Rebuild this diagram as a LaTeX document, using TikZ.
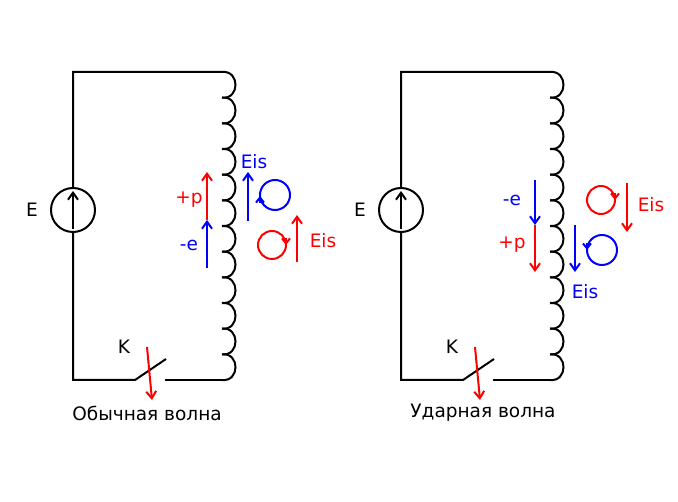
\documentclass[tikz,border=0pt]{standalone}
\usepackage{fontspec}
\setmainfont{DejaVu Sans}
\usetikzlibrary{arrows.meta}
\begin{document}
\begin{tikzpicture}[x=1pt,y=-1pt,
  wire/.style={line width=2pt,black},
  arr/.style={line width=2pt,-{Straight Barb[length=7pt,width=10pt,line width=2pt]}},
  lbl/.style={font=\fontsize{18.5}{20}\selectfont,inner sep=0pt}]
\useasboundingbox (0,0) rectangle (678,502);
\foreach \ox in {0,328}{
  \begin{scope}[xshift=\ox]
  \draw[wire] (222,72) -- (73,72) -- (73,380) -- (135,380) -- (166,359);
  \draw[wire] (165,380) -- (222,380);
  \foreach \i in {0,...,11}{
    \draw[wire] (222,72+\i*25.667) .. controls (240,70+\i*25.667) and (240,74+\i*25.667+25.667) .. (222,72+\i*25.667+25.667);
  }
  \draw[wire,fill=white] (73,210) circle (22);
  \draw[arr,line width=1.6pt] (73,229) -- (73,191);
  \draw[arr,red] (147,347) -- (152,400);
  \end{scope}
}
\node[lbl] (E1) at (32,210) {E};
\node[lbl] (K1) at (124,347) {K};
\node[lbl] (c1) at (147,413) {Обычная волна};
\node[lbl] (E2) at (360,210) {E};
\node[lbl] (K2) at (452,347) {K};
\node[lbl] (c2) at (483,413) {Ударная волна};
% left
\draw[arr,red] (207,220) -- (207,172);
\draw[arr,blue] (207,268) -- (207,220);
\node[lbl,red] at (189,200) {+p};
\node[lbl,blue] at (189,245) {-e};
\draw[arr,blue] (248,221) -- (248,172);
\node[lbl,blue] at (254,162) {Eis};
\draw[blue,line width=2pt] (275,195) circle (15);
\draw[blue,line width=2pt,-{Straight Barb[length=5pt,width=8pt,line width=2pt]}] (260,203) -- (260,196);
\draw[red,line width=2pt] (272,245) circle (14);
\draw[red,line width=2pt,-{Straight Barb[length=5pt,width=8pt,line width=2pt]}] (286,238) -- (286,245);
\draw[arr,red] (297,262) -- (297,215);
\node[lbl,red] at (323,241) {Eis};
% right
\draw[arr,blue] (535,180) -- (535,225);
\draw[arr,red] (535,225) -- (535,272);
\node[lbl,blue] at (512,200) {-e};
\node[lbl,red] at (512,245) {+p};
\draw[red,line width=2pt] (601,200) circle (14);
\draw[red,line width=2pt,-{Straight Barb[length=5pt,width=8pt,line width=2pt]}] (615,193) -- (615,200);
\draw[arr,red] (627,183) -- (627,232);
\node[lbl,red] at (651,205) {Eis};
\draw[arr,blue] (575,225) -- (575,272);
\draw[blue,line width=2pt] (602,250) circle (15);
\draw[blue,line width=2pt,-{Straight Barb[length=5pt,width=8pt,line width=2pt]}] (587,243) -- (587,250);
\node[lbl,blue] at (585,292) {Eis};
\end{tikzpicture}
\end{document}
